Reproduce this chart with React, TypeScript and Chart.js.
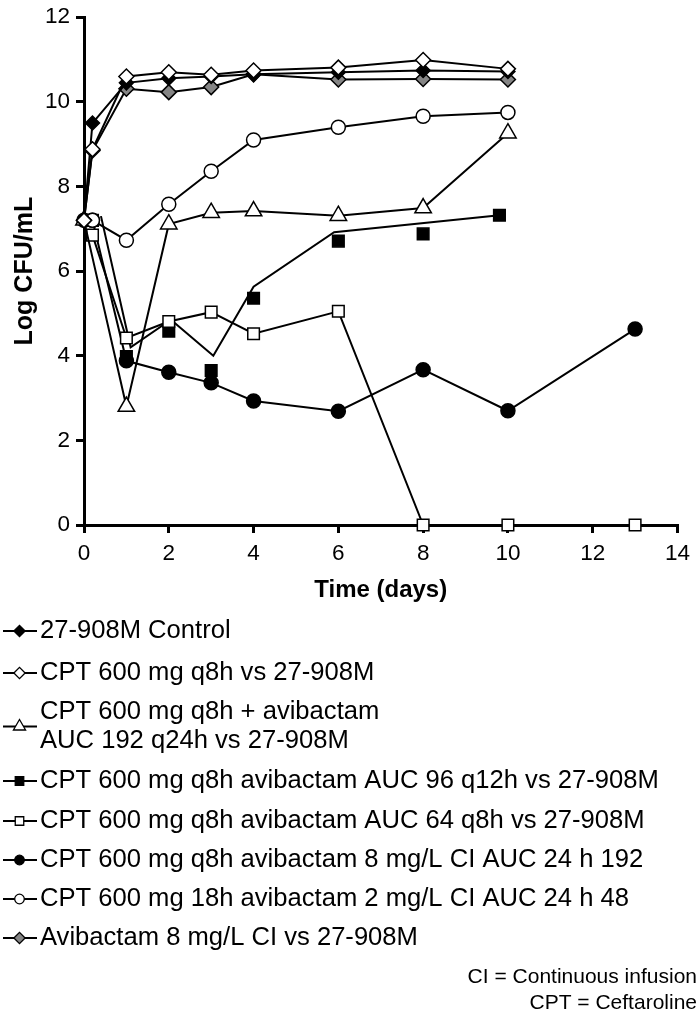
import React, { useEffect, useRef } from 'react';
import { Chart, registerables } from 'chart.js';

Chart.register(...registerables);

// ---- data ----
const xTickValues = [0, 2, 4, 6, 8, 10, 12, 14];
const yTickValues = [0, 2, 4, 6, 8, 10, 12];

const controlT = [0, 0.2, 1, 2, 3, 4, 6, 8, 10];
const controlV = [7.2, 9.5, 10.45, 10.56, 10.6, 10.65, 10.7, 10.74, 10.72];

const cptQ8T = [0, 0.2, 1, 2, 3, 4, 6, 8, 10];
const cptQ8V = [7.2, 8.88, 10.6, 10.7, 10.64, 10.74, 10.81, 10.99, 10.78];

const triT = [0, 1, 2, 3, 4, 6, 8, 10];
const triV = [7.2, 2.8, 7.11, 7.38, 7.42, 7.31, 7.49, 9.26];

const sq96T = [0.2, 1, 2, 3, 4, 6, 8, 9.8];
const sq96V = [7.2, 3.98, 4.58, 3.65, 5.36, 6.71, 6.88, 7.32];
const sq96FitT = [0.4, 1.1, 2.05, 3.05, 4, 5.9, 9.8];
const sq96FitV = [7.3, 4.2, 4.85, 4.0, 5.63, 6.92, 7.32];

const sq64T = [0.2, 1, 2, 3, 4, 6, 8, 10, 13];
const sq64V = [6.85, 4.42, 4.81, 5.03, 4.52, 5.05, 0, 0, 0];

const ci192T = [0, 0.2, 1, 2, 3, 4, 6, 8, 10, 13];
const ci192V = [7.2, 7.2, 3.88, 3.61, 3.36, 2.93, 2.69, 3.67, 2.7, 4.63];

const ci48T = [0.2, 1, 2, 3, 4, 6, 8, 10];
const ci48V = [7.2, 6.73, 7.58, 8.36, 9.1, 9.4, 9.66, 9.75];

const aviT = [0, 0.2, 1, 2, 3, 4, 6, 8, 10];
const aviV = [7.2, 8.85, 10.31, 10.23, 10.35, 10.65, 10.53, 10.54, 10.53];

const legendLabels = [
  ['27-908M Control'],
  ['CPT 600 mg q8h vs 27-908M'],
  ['CPT 600 mg q8h + avibactam', 'AUC 192 q24h vs 27-908M'],
  ['CPT 600 mg q8h avibactam AUC 96 q12h vs 27-908M'],
  ['CPT 600 mg q8h avibactam AUC 64 q8h vs 27-908M'],
  ['CPT 600 mg q8h avibactam 8 mg/L CI AUC 24 h 192'],
  ['CPT 600 mg 18h avibactam 2 mg/L CI AUC 24 h 48'],
  ['Avibactam 8 mg/L CI vs 27-908M'],
];
const footnotes = ['CI = Continuous infusion', 'CPT = Ceftaroline'];

const FONT = "'Liberation Sans', Arial, Helvetica, sans-serif";
const GRAY = '#858585';

type Marker = { shape: string; fill: string; r: number };
const markers: Marker[] = [
  { shape: 'rectRot', fill: '#000', r: 7 },
  { shape: 'rectRot', fill: '#fff', r: 7.5 },
  { shape: 'triangle', fill: '#fff', r: 9.5 },
  { shape: 'rect', fill: '#000', r: 8.2 },
  { shape: 'rect', fill: '#fff', r: 8.2 },
  { shape: 'circle', fill: '#000', r: 7 },
  { shape: 'circle', fill: '#fff', r: 7 },
  { shape: 'rectRot', fill: GRAY, r: 7.5 },
];

const pts = (t: number[], v: number[]) => t.map((x, i) => ({ x, y: v[i] }));

const series = (idx: number, t: number[], v: number[], showLine = true) => ({
  label: legendLabels[idx].join(' '),
  data: pts(t, v),
  showLine,
  borderColor: '#000',
  borderWidth: 2,
  pointStyle: markers[idx].shape,
  pointRadius: markers[idx].r,
  pointBackgroundColor: markers[idx].fill,
  pointBorderColor: '#000',
  pointBorderWidth: 1.5,
  backgroundColor: markers[idx].fill,
  fill: false,
  tension: 0,
});

function drawMarker(ctx: CanvasRenderingContext2D, m: Marker, x: number, y: number, r: number) {
  ctx.beginPath();
  if (m.shape === 'circle') {
    ctx.arc(x, y, r, 0, Math.PI * 2);
  } else if (m.shape === 'rect') {
    const s = r * Math.SQRT1_2;
    ctx.rect(x - s, y - s, 2 * s, 2 * s);
  } else if (m.shape === 'rectRot') {
    ctx.moveTo(x - r, y);
    ctx.lineTo(x, y - r);
    ctx.lineTo(x + r, y);
    ctx.lineTo(x, y + r);
    ctx.closePath();
  } else if (m.shape === 'triangle') {
    ctx.moveTo(x, y - r);
    ctx.lineTo(x + r * 0.866, y + r * 0.5);
    ctx.lineTo(x - r * 0.866, y + r * 0.5);
    ctx.closePath();
  }
  ctx.fillStyle = m.fill;
  ctx.fill();
  ctx.lineWidth = 1.3;
  ctx.strokeStyle = '#000';
  ctx.stroke();
}

const legendRows = [631, 673, 712, 781, 821, 860, 899, 938];
const footRows = [977, 1003];

const legendPlugin = {
  id: 'customLegend',
  afterDraw(chart: any) {
    const ctx: CanvasRenderingContext2D = chart.ctx;
    ctx.save();
    ctx.textBaseline = 'middle';
    ctx.textAlign = 'left';
    ctx.fillStyle = '#000';
    ctx.font = `25.6px ${FONT}`;
    legendLabels.forEach((lines, i) => {
      const y0 = legendRows[i];
      const my = lines.length > 1 ? y0 + 14.5 : y0;
      ctx.beginPath();
      ctx.moveTo(3, my);
      ctx.lineTo(37, my);
      ctx.lineWidth = 1.8;
      ctx.strokeStyle = '#000';
      ctx.stroke();
      const m = markers[i];
      const rr = m.shape === 'triangle' ? 7 : m.shape === 'rect' ? 6 : m.shape === 'circle' ? 4.8 : 5.6;
      drawMarker(ctx, m, 19.5, my, rr);
      ctx.fillStyle = '#000';
      lines.forEach((txt, k) => ctx.fillText(txt, 40, y0 + k * 29));
    });
    ctx.font = `21px ${FONT}`;
    ctx.textAlign = 'right';
    footnotes.forEach((txt, k) => ctx.fillText(txt, 697, footRows[k]));
    ctx.restore();
  },
};

export default function App() {
  const ref = useRef<HTMLCanvasElement | null>(null);
  useEffect(() => {
    document.body.style.margin = '0';
    const canvas = ref.current;
    if (!canvas) return;
    const chart = new Chart(canvas, {
      type: 'line',
      data: {
        datasets: [
          series(1, cptQ8T, cptQ8V),
          series(0, controlT, controlV),
          series(7, aviT, aviV),
          series(6, ci48T, ci48V),
          series(2, triT, triV),
          series(4, sq64T, sq64V),
          series(5, ci192T, ci192V),
          series(3, sq96T, sq96V, false),
          {
            label: 'AUC 96 q12h fit',
            data: pts(sq96FitT, sq96FitV),
            borderColor: '#000',
            borderWidth: 2,
            pointRadius: 0,
            fill: false,
            tension: 0,
          },
        ] as any,
      },
      options: {
        responsive: false,
        animation: false,
        devicePixelRatio: 1,
        clip: false as any,
        layout: { padding: { top: 11, right: 14, left: 0, bottom: 413 } },
        plugins: { legend: { display: false }, tooltip: { enabled: false } },
        scales: {
          x: {
            type: 'linear',
            min: 0,
            max: 14,
            afterBuildTicks: (s: any) => {
              s.ticks = xTickValues.map((value) => ({ value }));
            },
            afterFit: (s: any) => {
              s.height = 80;
            },
            ticks: {
              color: '#000',
              font: { family: FONT, size: 22.5, lineHeight: 1 },
              padding: 10,
              maxRotation: 0,
              autoSkip: false,
            },
            grid: {
              drawOnChartArea: false,
              drawTicks: true,
              tickLength: 8,
              tickWidth: 3,
              tickColor: '#000',
              color: '#000',
              lineWidth: 3,
            },
            border: { display: true, color: '#000', width: 3 },
            title: {
              display: true,
              text: 'Time (days)',
              color: '#000',
              font: { family: FONT, size: 24, weight: 'bold', lineHeight: 1.2 },
              padding: { top: 0, bottom: 0.6 },
            },
          },
          y: {
            type: 'linear',
            min: 0,
            max: 12,
            afterBuildTicks: (s: any) => {
              s.ticks = yTickValues.map((value) => ({ value }));
            },
            afterFit: (s: any) => {
              s.width = 84;
            },
            ticks: {
              color: '#000',
              font: { family: FONT, size: 22.5, lineHeight: 1 },
              padding: 6,
            },
            grid: {
              drawOnChartArea: false,
              drawTicks: true,
              tickLength: 8,
              tickWidth: 3,
              tickColor: '#000',
              color: '#000',
              lineWidth: 3,
            },
            border: { display: true, color: '#000', width: 3 },
            title: {
              display: true,
              text: 'Log CFU/mL',
              color: '#000',
              font: { family: FONT, size: 25, weight: 'bold', lineHeight: 1.2 },
              padding: { top: 10, bottom: 0 },
            },
          },
        },
      } as any,
      plugins: [legendPlugin],
    });
    return () => chart.destroy();
  }, []);
  return (
    <div style={{ width: 700, height: 1018 }}>
      <canvas ref={ref} width={700} height={1018} style={{ display: 'block' }} />
    </div>
  );
}
